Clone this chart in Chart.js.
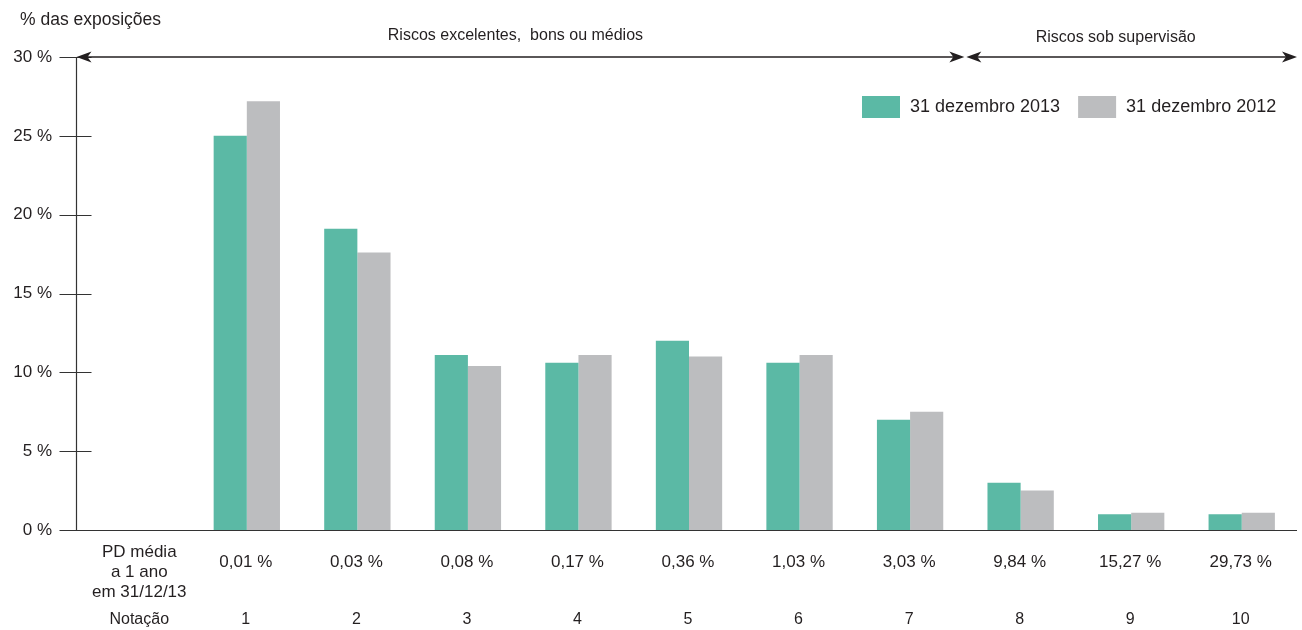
<!DOCTYPE html>
<html lang="pt">
<head>
<meta charset="utf-8">
<title>% das exposições por notação</title>
<script src="https://cdn.jsdelivr.net/npm/chart.js@4/dist/chart.umd.min.js"></script>
<style>
  html, body { margin: 0; padding: 0; background: #fff; }
  canvas { display: block; }
</style>
</head>
<body>
<canvas id="chart" width="1302" height="630"></canvas>
<script>
// Notação 1..10, the first slot holds the row captions
const ratings = ["", "1", "2", "3", "4", "5", "6", "7", "8", "9", "10"];
const pdLabels = ["", "0,01 %", "0,03 %", "0,08 %", "0,17 %", "0,36 %", "1,03 %", "3,03 %", "9,84 %", "15,27 %", "29,73 %"];
const pdCaption = ["PD média", "a 1 ano", "em 31/12/13"];
const ratingCaption = "Notação";

const exposure2013 = [null, 25.0, 19.1, 11.1, 10.6, 12.0, 10.6, 7.0, 3.0, 1.0, 1.0];
const exposure2012 = [null, 27.2, 17.6, 10.4, 11.1, 11.0, 11.1, 7.5, 2.5, 1.1, 1.1];

const seriesNames = ["31 dezembro 2013", "31 dezembro 2012"];
const seriesColors = ["#5bb9a5", "#bcbdbf"];

// groups shown above the plot: [text, first rating, last rating]
const riskGroups = [
  ["Riscos excelentes,  bons ou médios", 1, 7],
  ["Riscos sob supervisão", 8, 10]
];

const FONT = '"Liberation Sans", Arial, Helvetica, sans-serif';
const INK = "#231f20";
const AXIS = "#333333";
const AXIS_GAP = 5; // the value axis sits a little left of the first slot

function arrowHead(ctx, x, y, dir) {
  ctx.beginPath();
  ctx.moveTo(x, y);
  ctx.lineTo(x - dir * 15, y - 5.5);
  ctx.lineTo(x - dir * 11, y);
  ctx.lineTo(x - dir * 15, y + 5.5);
  ctx.closePath();
  ctx.fill();
}

const decorations = {
  id: "decorations",
  afterDraw(chart) {
    const ctx = chart.ctx;
    const xs = chart.scales.x;
    const ys = chart.scales.y;
    const area = chart.chartArea;
    const axisX = Math.round(area.left - AXIS_GAP) + 0.5;
    ctx.save();

    // value axis with tick marks crossing it, and the baseline
    ctx.strokeStyle = AXIS;
    ctx.lineWidth = 1.2;
    ctx.beginPath();
    ctx.moveTo(axisX, ys.getPixelForValue(30));
    ctx.lineTo(axisX, ys.getPixelForValue(0));
    ctx.stroke();
    ys.ticks.forEach(t => {
      const y = Math.round(ys.getPixelForValue(t.value)) + 0.5;
      ctx.beginPath();
      ctx.moveTo(axisX - 17, y);
      ctx.lineTo(t.value === 0 ? area.right : axisX + 15, y);
      ctx.stroke();
    });

    // axis title
    ctx.fillStyle = INK;
    ctx.font = "17.5px " + FONT;
    ctx.textAlign = "left";
    ctx.textBaseline = "middle";
    ctx.fillText("% das exposições", 20, 20);

    // group arrows along the 30 % line
    const yTop = ys.getPixelForValue(30);
    let start = axisX;
    riskGroups.forEach(([text, first, last], i) => {
      const end = i === riskGroups.length - 1
        ? area.right
        : (xs.getPixelForValue(last) + xs.getPixelForValue(last + 1)) / 2 - 1;
      ctx.strokeStyle = INK;
      ctx.lineWidth = 1.6;
      ctx.beginPath();
      ctx.moveTo(start + 4, yTop);
      ctx.lineTo(end - 4, yTop);
      ctx.stroke();
      ctx.fillStyle = INK;
      arrowHead(ctx, start, yTop, -1);
      arrowHead(ctx, end, yTop, 1);
      ctx.font = "16px " + FONT;
      ctx.textAlign = "center";
      ctx.fillText(text, (start + end) / 2 - (i ? 16 : 5), yTop - 21 + i * 2);
      start = end + 2;
    });

    // x labels: PD row and rating row
    ctx.fillStyle = INK;
    ctx.textAlign = "center";
    ctx.font = "17px " + FONT;
    const c0 = xs.getPixelForValue(0) + 3;
    pdCaption.forEach((line, k) => ctx.fillText(line, c0, 552 + k * 20));
    pdLabels.forEach((lab, i) => {
      if (lab) ctx.fillText(lab, xs.getPixelForValue(i) - 1, 562);
    });
    ctx.font = "16px " + FONT;
    ctx.fillText(ratingCaption, c0, 620);
    ratings.forEach((lab, i) => {
      if (lab) ctx.fillText(lab, xs.getPixelForValue(i) - 1, 620);
    });

    // legend
    ctx.font = "18px " + FONT;
    ctx.textAlign = "left";
    let lx = 862;
    chart.data.datasets.forEach(ds => {
      ctx.fillStyle = ds.backgroundColor;
      ctx.fillRect(lx, 96, 38, 22);
      ctx.fillStyle = INK;
      ctx.fillText(ds.label, lx + 48, 107);
      lx += 48 + ctx.measureText(ds.label).width + 18;
    });

    ctx.restore();
  }
};

new Chart(document.getElementById("chart"), {
  type: "bar",
  data: {
    labels: ratings,
    datasets: [
      { label: seriesNames[0], data: exposure2013, backgroundColor: seriesColors[0] },
      { label: seriesNames[1], data: exposure2012, backgroundColor: seriesColors[1] }
    ]
  },
  options: {
    responsive: false,
    animation: false,
    layout: { padding: { top: 57, right: 5, bottom: 0, left: 0 } },
    datasets: {
      bar: { categoryPercentage: 0.6, barPercentage: 1.0 }
    },
    plugins: {
      legend: { display: false },
      tooltip: { enabled: false }
    },
    scales: {
      x: {
        ticks: { display: false },
        grid: { display: false, drawTicks: false },
        border: { display: false },
        afterFit: s => { s.height = 100; }
      },
      y: {
        min: 0,
        max: 30,
        ticks: {
          stepSize: 5,
          padding: 24 + AXIS_GAP,
          color: INK,
          font: { family: FONT, size: 17 },
          callback: v => v + " %"
        },
        grid: { display: false, drawTicks: false },
        border: { display: false },
        afterFit: s => { s.width = 76 + AXIS_GAP; }
      }
    }
  },
  plugins: [decorations]
});
</script>
</body>
</html>
